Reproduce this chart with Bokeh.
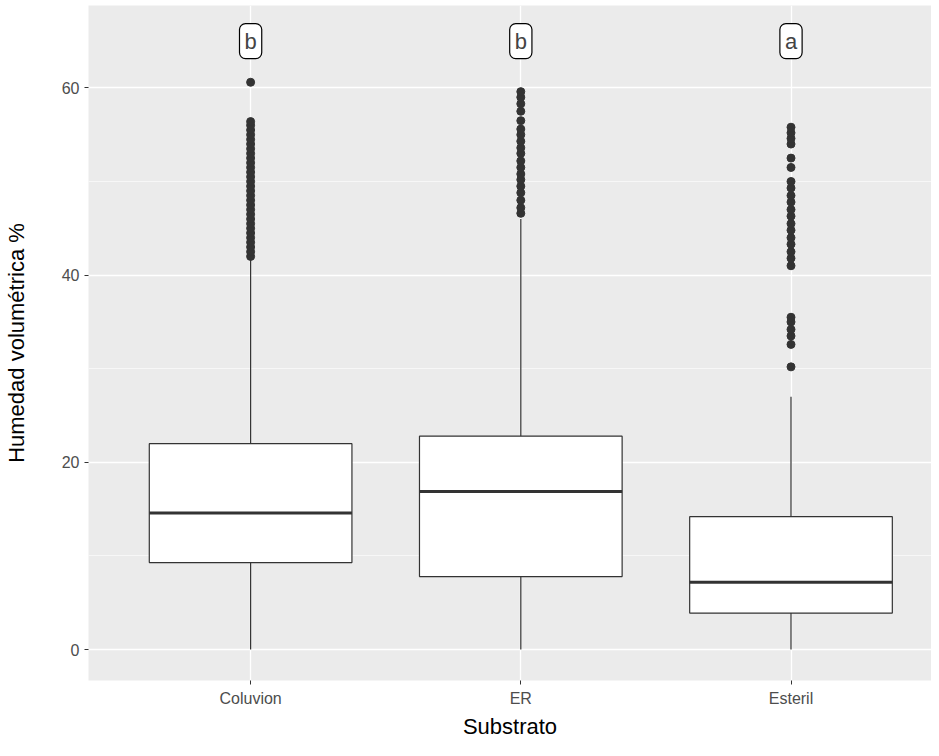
from bokeh.plotting import figure
from bokeh.models import Label, FixedTicker, Range1d
from bokeh.embed import file_html
from bokeh.resources import INLINE

cats = ["Coluvion", "ER", "Esteril"]
q1 = [9.3, 7.8, 3.9]
med = [14.6, 16.9, 7.2]
q3 = [22.0, 22.8, 14.2]
lo = [0.0, 0.0, 0.0]
hi = [41.7, 46.0, 27.0]
letters = ["b", "b", "a"]
out_col = [42.0, 42.5, 43.0, 43.5, 44.0, 44.5, 45.0, 45.5, 46.0, 46.5, 47.0, 47.5, 48.0, 48.5,
           49.0, 49.5, 50.0, 50.5, 51.0, 51.5, 52.0, 52.5, 53.0, 53.5, 54.0, 54.5, 55.0, 55.5,
           56.0, 56.4, 60.6]
out_er = [46.6, 47.2, 48.0, 48.8, 49.5, 50.2, 50.8, 51.5, 52.2, 53.0, 53.6, 54.3, 55.0,
          55.6, 56.5, 57.5, 58.3, 59.0, 59.6]
out_est = [30.2, 32.6, 33.5, 34.2, 35.0, 35.5, 41.0, 41.8, 42.5, 43.3, 44.0, 44.8, 45.5,
           46.3, 47.0, 47.8, 48.5, 49.3, 50.0, 51.5, 52.5, 54.0, 54.6, 55.2, 55.8]

xs = [i + 1 for i in range(len(cats))]
hw = 0.375

p = figure(x_range=Range1d(0.4, 3.52), y_range=(-3.3, 68.8), width=931, height=748,
           output_backend="svg", toolbar_location=None,
           x_axis_label="Substrato", y_axis_label="Humedad volumétrica %")
p.background_fill_color = "#EBEBEB"
p.outline_line_color = None
p.border_fill_color = "white"
p.min_border_left = 88; p.min_border_bottom = 68; p.min_border_top = 5; p.min_border_right = 0
p.xgrid.grid_line_color = "white"; p.xgrid.grid_line_width = 1.3
p.ygrid.grid_line_color = "white"; p.ygrid.grid_line_width = 1.3
p.ygrid.minor_grid_line_color = "white"; p.ygrid.minor_grid_line_width = 0.6
p.yaxis.ticker = FixedTicker(ticks=[0, 20, 40, 60], minor_ticks=[10, 30, 50])
p.xaxis.ticker = FixedTicker(ticks=xs)
p.xaxis.major_label_overrides = {x: c for x, c in zip(xs, cats)}
for ax in (p.xaxis, p.yaxis):
    ax.axis_line_color = None
    ax.major_tick_line_color = "#333333"
    ax.minor_tick_line_color = None
    ax.major_tick_out = 4; ax.major_tick_in = 0
    ax.major_label_text_color = "#4D4D4D"
    ax.major_label_text_font = "Liberation Sans"
    ax.major_label_text_font_size = "16px"
    ax.axis_label_text_font = "Liberation Sans"
    ax.axis_label_text_font_size = "22px"
    ax.axis_label_text_font_style = "normal"
    ax.axis_label_text_color = "black"
p.xaxis.axis_label_standoff = 4
p.yaxis.axis_label_standoff = 30

p.segment(x0=xs, x1=xs, y0=lo, y1=q1, color="#333333", line_width=1.2)
p.segment(x0=xs, x1=xs, y0=q3, y1=hi, color="#333333", line_width=1.2)
p.vbar(x=xs, width=2 * hw, bottom=q1, top=q3, fill_color="white", line_color="#333333", line_width=1.2)
p.segment(x0=[x - hw for x in xs], x1=[x + hw for x in xs], y0=med, y1=med,
          line_color="#333333", line_width=3)
for x, vals in zip(xs, [out_col, out_er, out_est]):
    p.scatter(x=[x] * len(vals), y=vals, size=8, color="#333333")
for x, t in zip(xs, letters):
    p.add_layout(Label(x=x, y=65, text=t, text_align="center", text_baseline="middle",
                       text_font="Liberation Sans", text_font_size="22px",
                       background_fill_color="white", border_line_color="black",
                       border_line_width=1.2, border_radius=6, padding=5))

open("out.html", "w").write(file_html(p, INLINE))
